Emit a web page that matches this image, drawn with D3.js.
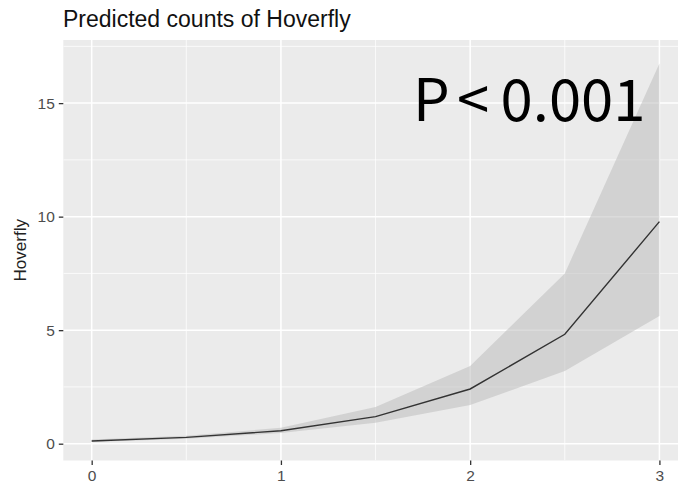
<!DOCTYPE html>
<html>
<head>
<meta charset="utf-8">
<script src="https://cdn.jsdelivr.net/npm/d3@7"></script>
<style>
  html, body { margin: 0; padding: 0; background: #ffffff; }
  svg { display: block; }
</style>
</head>
<body>
<svg id="chart" width="678" height="487"></svg>
<script>
// ---- data ----
const xValues = [0, 0.5, 1, 1.5, 2, 2.5, 3];
const predicted = [0.12, 0.28, 0.57, 1.19, 2.41, 4.82, 9.78];
const lowerCI = [0.08, 0.22, 0.47, 0.92, 1.70, 3.20, 5.62];
const upperCI = [0.18, 0.35, 0.70, 1.62, 3.42, 7.50, 16.75];
const xTicks = [0, 1, 2, 3];
const xMinor = [0.5, 1.5, 2.5];
const yTicks = [0, 5, 10, 15];
const yMinor = [2.5, 7.5, 12.5, 17.5];
const titleText = "Predicted counts of Hoverfly";
const yTitle = "Hoverfly";
const annotationParts = ["P", "<", "0.001"];

const rows = xValues.map((x, i) => ({ x, y: predicted[i], lo: lowerCI[i], hi: upperCI[i] }));

// ---- layout ----
const svg = d3.select("#chart");
const panel = { left: 63.3, right: 687.8, top: 40, bottom: 460.5 };

const x = d3.scaleLinear().domain([-0.15, 3.15]).range([panel.left, panel.right]);
const y = d3.scaleLinear().domain([-0.74, 17.78]).range([panel.bottom, panel.top]);

const defs = svg.append("defs");
defs.append("clipPath").attr("id", "clip")
  .append("rect").attr("x", panel.left).attr("y", panel.top)
  .attr("width", panel.right - panel.left).attr("height", panel.bottom - panel.top);

// panel background
svg.append("rect")
  .attr("x", panel.left).attr("y", panel.top)
  .attr("width", panel.right - panel.left).attr("height", panel.bottom - panel.top)
  .attr("fill", "#EBEBEB");

const grid = svg.append("g").attr("clip-path", "url(#clip)");
// minor gridlines
grid.selectAll(".xminor").data(xMinor).join("line")
  .attr("x1", d => x(d)).attr("x2", d => x(d))
  .attr("y1", panel.top).attr("y2", panel.bottom)
  .attr("stroke", "#fff").attr("stroke-width", 0.75);
grid.selectAll(".yminor").data(yMinor).join("line")
  .attr("y1", d => y(d)).attr("y2", d => y(d))
  .attr("x1", panel.left).attr("x2", panel.right)
  .attr("stroke", "#fff").attr("stroke-width", 0.75);
// major gridlines
grid.selectAll(".xmajor").data(xTicks).join("line")
  .attr("x1", d => x(d)).attr("x2", d => x(d))
  .attr("y1", panel.top).attr("y2", panel.bottom)
  .attr("stroke", "#fff").attr("stroke-width", 1.5);
grid.selectAll(".ymajor").data(yTicks).join("line")
  .attr("y1", d => y(d)).attr("y2", d => y(d))
  .attr("x1", panel.left).attr("x2", panel.right)
  .attr("stroke", "#fff").attr("stroke-width", 1.5);

// ribbon
const area = d3.area().x(d => x(d.x)).y0(d => y(d.lo)).y1(d => y(d.hi));
svg.append("path").datum(rows)
  .attr("clip-path", "url(#clip)")
  .attr("d", area)
  .attr("fill", "#bdbdbd").attr("fill-opacity", 0.55);

// line
const line = d3.line().x(d => x(d.x)).y(d => y(d.y));
svg.append("path").datum(rows)
  .attr("clip-path", "url(#clip)")
  .attr("d", line)
  .attr("fill", "none").attr("stroke", "#333").attr("stroke-width", 1.4);

// axes
const xAxis = d3.axisBottom(x).tickValues(xTicks).tickSize(4.5).tickPadding(5).tickFormat(d3.format("d"));
const gx = svg.append("g").attr("transform", `translate(0,${panel.bottom})`).call(xAxis);
gx.select(".domain").remove();
gx.selectAll(".tick line").attr("stroke", "#333").attr("stroke-width", 1.3);
gx.selectAll(".tick text").attr("fill", "#4D4D4D")
  .style("font-family", "'Liberation Sans', Arial, sans-serif").style("font-size", "15.5px");

const yAxis = d3.axisLeft(y).tickValues(yTicks).tickSize(4.5).tickPadding(4).tickFormat(d3.format("d"));
const gy = svg.append("g").attr("transform", `translate(${panel.left},0)`).call(yAxis);
gy.select(".domain").remove();
gy.selectAll(".tick line").attr("stroke", "#333").attr("stroke-width", 1.3);
gy.selectAll(".tick text").attr("fill", "#4D4D4D")
  .style("font-family", "'Liberation Sans', Arial, sans-serif").style("font-size", "15.5px");

// y axis title
svg.append("text")
  .attr("transform", `translate(26,${(panel.top + panel.bottom) / 2}) rotate(-90)`)
  .attr("text-anchor", "middle")
  .attr("fill", "#222")
  .style("font-family", "'Liberation Sans', Arial, sans-serif").style("font-size", "17px")
  .text(yTitle);

// title
svg.append("text")
  .attr("x", 63).attr("y", 27)
  .attr("fill", "#111")
  .style("font-family", "'Liberation Sans', Arial, sans-serif").style("font-size", "23px")
  .text(titleText);

// annotation: three pieces with even, generous gaps around "<"
const annFont = "'Noto Sans CJK KR', 'Noto Sans', sans-serif";
const ann = svg.append("g").attr("fill", "#000")
  .style("font-family", annFont).style("font-size", "58px");
ann.append("text").attr("x", 413).attr("y", 121).attr("text-anchor", "start").text(annotationParts[0]);
ann.append("text").attr("x", 473).attr("y", 121).attr("text-anchor", "middle").text(annotationParts[1]);
ann.append("text").attr("x", 645.5).attr("y", 121).attr("text-anchor", "end").text(annotationParts[2]);
</script>
</body>
</html>
